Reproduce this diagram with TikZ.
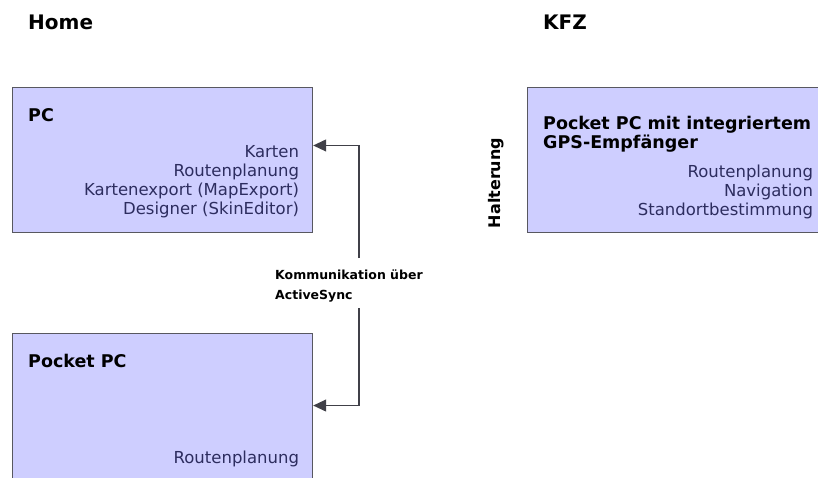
\documentclass[tikz,border=0pt]{standalone}
\usepackage{fontspec}
\setmainfont{DejaVu Sans}
\usepackage{tikz}
\usetikzlibrary{positioning,calc,arrows.meta}

\definecolor{boxfill}{RGB}{206,206,255}
\definecolor{boxline}{RGB}{88,88,96}
\definecolor{itemcol}{RGB}{45,45,95}
\definecolor{conncol}{RGB}{64,64,72}

\tikzset{
  devbox/.style={draw=boxline,fill=boxfill,line width=1.2pt,anchor=north west,inner sep=0pt},
  heading/.style={anchor=base west,inner sep=0pt,font=\fontsize{20}{24}\selectfont\bfseries},
  boxtitle/.style={anchor=base west,inner sep=0pt,font=\fontsize{17.5}{21}\selectfont\bfseries},
  item/.style={anchor=base east,inner sep=0pt,text=itemcol,font=\fontsize{16.5}{19}\selectfont},
  conn/.style={draw=conncol,line width=1.1pt,-{Triangle[length=13pt,width=12pt]}},
}

\begin{document}
\begin{tikzpicture}[x=1pt,y=-1pt]
		\useasboundingbox[fill=white] (0,0) rectangle (818,478);
		
		\node[heading] (home) at (28,30) {Home};
		\node[heading] (kfz) at (543,30) {KFZ};
		
		\node[devbox, minimum width=300pt, minimum height=145pt] (pc) at (12,87) {};
		\node[devbox, minimum width=300pt, minimum height=160pt] (pocket) at (12,333) {};
		\node[devbox, minimum width=300pt, minimum height=145pt] (gps) at (527,87) {};
		
		\node[boxtitle] (pctitle) at ($(pc.north west)+(16,35)$) {PC};
		\node[boxtitle] (pockettitle) at ($(pocket.north west)+(16,34)$) {Pocket PC};
		\node[boxtitle] (gpstitle) at ($(gps.north west)+(16,43)$) {Pocket PC mit integriertem};
		\node[boxtitle] (gpstitle2) at ($(gps.north west)+(16,62)$) {GPS-Empfänger};
		
		\foreach \txt [count=\i] in {Karten,Routenplanung,Kartenexport (MapExport),Designer (SkinEditor)}
			\node[item] (pc-\i) at ($(pc.north east)+(-14,52.3+18.7*\i)$) {\txt};
		\foreach \txt [count=\i] in {Routenplanung,Navigation,Standortbestimmung}
			\node[item] (gps-\i) at ($(gps.north east)+(-15,72.5+18.5*\i)$) {\txt};
		\node[item] (pocket-1) at ($(pocket.north east)+(-14,130)$) {Routenplanung};
		
		\node[rotate=90,inner sep=0pt,font=\fontsize{16}{19}\selectfont\bfseries] (halter) at (496,183) {Halterung};
		
		\node[anchor=north west,inner sep=0pt,align=left,font=\fontsize{12.5}{20}\selectfont\bfseries] (sync) at (275,269.5) {Kommunikation über\\ActiveSync};
		\coordinate (synctop) at (359,258);
		\coordinate (syncbot) at (359,308);
		
		\draw[conn] (synctop) |- ($(pc.north east)!0.4!(pc.south east)$);
		\draw[conn] (syncbot) |- ($(pocket.north east)!0.45!(pocket.south east)$);
	\end{tikzpicture}
\end{document}
